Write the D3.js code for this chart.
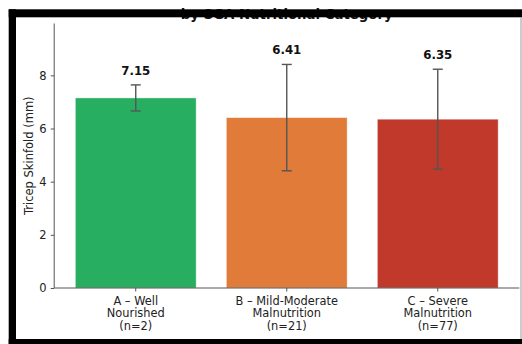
<!DOCTYPE html>
<html>
<head>
<meta charset="utf-8">
<script src="https://cdn.jsdelivr.net/npm/d3@7/dist/d3.min.js"></script>
<style>
  html, body { margin: 0; padding: 0; background: #fff; }
  svg { display: block; }
  text { font-family: "DejaVu Sans", sans-serif; }
</style>
</head>
<body>
<svg id="chart" width="522" height="344"></svg>
<script>
// Tricep skinfold by SGA nutritional category (mean ± SD)
const categories = ["A", "B", "C"];
const categoryLines = [
  ["A \u2013 Well", "Nourished", "(n=2)"],
  ["B \u2013 Mild-Moderate", "Malnutrition", "(n=21)"],
  ["C \u2013 Severe", "Malnutrition", "(n=77)"]
];
const means = [7.15, 6.41, 6.35];
const sds = [0.49, 2.00, 1.88];
const barColors = ["#27ae60", "#e07b39", "#c0392b"];
const yTicks = [0, 2, 4, 6, 8];
const yMax = 9.95;
const titleText = "by SGA Nutritional Category";
const yLabel = "Tricep Skinfold (mm)";

const svg = d3.select("#chart");
const plot = { left: 54.2, right: 519.3, top: 23.5, bottom: 288 };

const x = d3.scaleBand()
  .domain(categories)
  .range([plot.left, plot.right])
  .paddingInner(0.2)
  .paddingOuter(0.14);

const y = d3.scaleLinear()
  .domain([0, yMax])
  .range([plot.bottom, plot.top]);

// Title (second line of the heading)
svg.append("text")
  .attr("x", (plot.left + plot.right) / 2)
  .attr("y", 19)
  .attr("text-anchor", "middle")
  .attr("font-weight", "bold")
  .attr("font-size", "13.3px")
  .attr("fill", "#111")
  .text(titleText);

// Bars
svg.append("g").selectAll("rect")
  .data(categories)
  .join("rect")
  .attr("x", d => x(d))
  .attr("width", x.bandwidth())
  .attr("y", (d, i) => y(means[i]))
  .attr("height", (d, i) => y(0) - y(means[i]))
  .attr("fill", (d, i) => barColors[i])
  .attr("stroke", "#fff")
  .attr("stroke-opacity", 0.5)
  .attr("stroke-width", 0.8);

// Error bars
const eb = svg.append("g")
  .attr("stroke", "#555")
  .attr("stroke-width", 1.4);
categories.forEach((c, i) => {
  const cx = x(c) + x.bandwidth() / 2;
  const lo = y(means[i] - sds[i]);
  const hi = y(means[i] + sds[i]);
  eb.append("line").attr("x1", cx).attr("x2", cx).attr("y1", lo).attr("y2", hi);
  eb.append("line").attr("x1", cx - 5).attr("x2", cx + 5).attr("y1", lo).attr("y2", lo);
  eb.append("line").attr("x1", cx - 5).attr("x2", cx + 5).attr("y1", hi).attr("y2", hi);
});

// Value labels above error bars
svg.append("g").selectAll("text")
  .data(categories)
  .join("text")
  .attr("x", d => x(d) + x.bandwidth() / 2)
  .attr("y", (d, i) => y(means[i] + sds[i]) - 10)
  .attr("text-anchor", "middle")
  .attr("font-weight", "bold")
  .attr("font-size", "11.8px")
  .attr("fill", "#111")
  .text((d, i) => means[i].toFixed(2));

// Y axis
const yAxis = svg.append("g")
  .attr("transform", `translate(${plot.left},0)`)
  .call(d3.axisLeft(y).tickValues(yTicks).tickFormat(d3.format("d")).tickSize(3.5).tickPadding(4));
yAxis.select(".domain").attr("d", `M0,${plot.top}V${plot.bottom}`);
yAxis.selectAll("path, line").attr("stroke", "#555");
yAxis.selectAll("text").attr("font-size", "11.5px").attr("fill", "#222")
  .style("font-family", "DejaVu Sans, sans-serif");

// X axis
const xAxis = svg.append("g")
  .attr("transform", `translate(0,${plot.bottom})`)
  .call(d3.axisBottom(x).tickSize(3.5).tickFormat(""));
xAxis.select(".domain").attr("d", `M${plot.left},0H${plot.right}`);
xAxis.selectAll("path, line").attr("stroke", "#555");

// Multi-line category labels
categories.forEach((c, i) => {
  const t = svg.append("text")
    .attr("x", x(c) + x.bandwidth() / 2)
    .attr("y", 304.5)
    .attr("text-anchor", "middle")
    .attr("font-size", "11.4px")
    .attr("fill", "#222");
  categoryLines[i].forEach((line, j) => {
    t.append("tspan")
      .attr("x", x(c) + x.bandwidth() / 2)
      .attr("dy", j === 0 ? 0 : 12.6)
      .text(line);
  });
});

// Y axis title
svg.append("text")
  .attr("transform", `translate(33,${(plot.top + plot.bottom) / 2}) rotate(-90)`)
  .attr("text-anchor", "middle")
  .attr("font-size", "11.5px")
  .attr("fill", "#222")
  .text(yLabel);

// Black frame around the figure
const frame = svg.append("g").attr("fill", "#000");
frame.append("rect").attr("x", 8.7).attr("y", 9.3).attr("width", 522 - 8.7).attr("height", 8);
frame.append("rect").attr("x", 8.7).attr("y", 9.3).attr("width", 7.3).attr("height", 344 - 9.3);
frame.append("rect").attr("x", 8.7).attr("y", 339).attr("width", 522 - 8.7).attr("height", 5);
svg.append("line")
  .attr("x1", 521).attr("x2", 521).attr("y1", 17).attr("y2", 339)
  .attr("stroke", "#999").attr("stroke-width", 1);
</script>
</body>
</html>
